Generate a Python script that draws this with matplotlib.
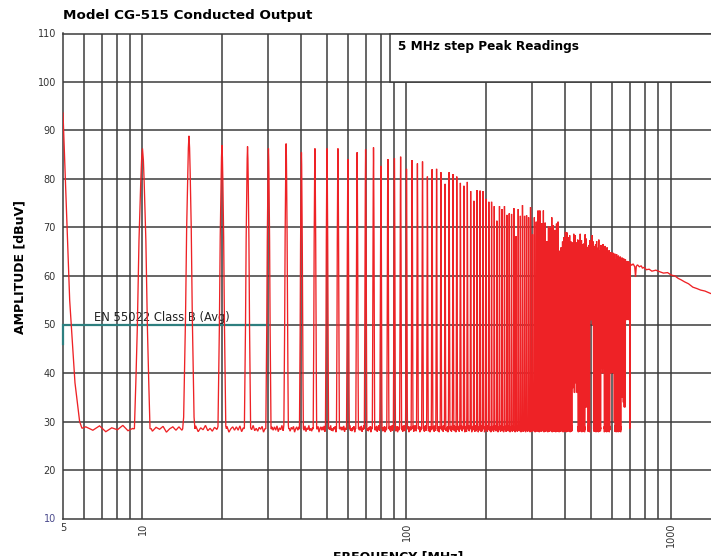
import numpy as np
import matplotlib
matplotlib.use("Agg")
import matplotlib.pyplot as plt
from matplotlib.patches import Rectangle

# ---------------- data ----------------
title = "Model CG-515 Conducted Output"
legend_text = "5 MHz step Peak Readings"
limit_label = "EN 55022 Class B (Avg)"
x_label = "FREQUENCY [MHz]"
y_label = "AMPLITUDE [dBuV]"

# EN 55022 Class B average limit
limit_mhz = [5, 5, 30]
limit_dbuv = [46, 50, 50]

# initial roll-off from the 5 MHz fundamental
start_mhz = [5.0, 5.1, 5.3, 5.55, 5.78, 5.9]
start_dbuv = [93.6, 80.5, 55.0, 38.0, 30.0, 28.6]

# 5 MHz harmonics (peak readings)
harm_mhz = list(range(10, 705, 5))
harm_peak = [
    86.3, 88.9, 87.0, 86.7, 86.3, 87.3, 85.5, 86.3, 86.3, 86.3,   # 10-55
    84.1, 85.5, 86.1, 86.5, 82.7, 84.1, 84.3, 84.6, 82.1, 83.9,   # 60-105
    83.2, 83.6, 80.5, 82.0, 82.1, 81.4, 79.0, 81.4, 81.0, 80.5,   # 110-155
    79.2, 78.6, 79.4, 77.5, 75.5, 77.7, 77.6, 77.5, 75.9, 75.3,   # 160-205
    75.3, 74.4, 71.4, 74.4, 73.8, 74.4, 72.6, 72.9, 72.8, 74.0,   # 210-255
    68.2, 73.8, 72.4, 74.6, 72.4, 72.5, 72.1, 74.2, 68.6, 72.1,   # 260-305
    71.2, 73.5, 73.5, 70.9, 73.5, 71.0, 67.2, 70.3, 70.0, 72.1,   # 310-355
    70.5, 69.5, 70.8, 71.2, 65.2, 65.9, 67.1, 68.0, 69.1, 69.0,   # 360-405
    68.0, 68.4, 67.1, 66.9, 68.7, 68.4, 66.9, 67.5, 67.3, 68.7,   # 410-455
    67.4, 66.5, 66.7, 68.6, 67.7, 66.0, 66.4, 67.4, 67.0, 68.4,   # 460-505
    67.1, 66.1, 66.5, 67.2, 65.8, 67.5, 65.2, 66.4, 64.1, 66.6,   # 510-555
    65.0, 66.2, 63.8, 65.9, 64.2, 65.3, 63.5, 64.9, 64.0, 64.8,   # 560-605
    62.9, 64.6, 63.4, 64.5, 62.8, 64.2, 63.1, 64.0, 62.5, 63.8,   # 610-655
    62.9, 63.6, 62.2, 63.4, 62.6, 63.1, 61.8, 63.0, 62.5,         # 660-700
]
# lowest reading between a harmonic and the next one (noise floor or higher)
floor_dbuv = 28.5
valley_high_mhz = [425, 430, 435, 440, 475, 480, 495, 500, 505,
                   545, 550, 555, 590, 595, 600, 605, 610,
                   650, 655, 660, 665, 670, 675, 680, 685, 690, 695]
valley_high_dbuv = [37, 36, 38, 36, 33, 33, 51, 51, 50,
                    41, 40, 41, 41, 40, 41, 40, 30,
                    35, 35, 34, 33, 33, 52, 51, 52, 51, 52]
# noise floor ripple readings (dB around the floor)
floor_ripple = [0.4, -0.3, 0.6, -0.6, 0.2, -0.2, 0.7, -0.4, 0.1, -0.5, 0.3,
                -0.1, 0.5, -0.7, 0.0, 0.4, -0.3]
# measured single-line response (offset MHz, dB below peak)
resp_offset = [0.0, 0.08, 0.15, 0.3, 0.44, 0.56, 0.68, 0.8]
resp_drop = [0.0, 2.5, 7.0, 19.0, 37.0, 48.0, 58.0, 66.0]

# upper band (harmonics merged)
tail_mhz = [703, 712, 722, 732, 737, 742, 750, 762, 775, 783, 795, 810,
            830, 850, 880, 908, 940, 975, 1006, 1040, 1070, 1098, 1130,
            1170, 1215, 1260, 1300, 1350, 1418, 1460, 1500]
tail_dbuv = [62.6, 62.2, 62.5, 61.9, 59.8, 62.0, 62.3, 61.9, 62.1, 61.6,
             61.8, 61.3, 61.4, 61.0, 61.2, 60.9, 60.6, 60.7, 60.2, 60.0,
             59.5, 59.2, 58.8, 58.4, 57.7, 57.4, 57.1, 56.9, 56.4, 56.3, 56.0]

y_ticks = [10, 20, 30, 40, 50, 60, 70, 80, 90, 100, 110]
x_tick_vals = [5, 10, 100, 1000, 1500]
x_tick_labels = ["5", "10", "100", "1000", "1500"]
x_grid_mhz = [6, 7, 8, 9, 20, 30, 40, 50, 60, 70, 80, 90,
              200, 300, 400, 500, 600, 700, 800, 900]

# ---------------- build the trace ----------------
valley_map = dict(zip(valley_high_mhz, valley_high_dbuv))
xs = list(start_mhz)
ys = list(start_dbuv)
rip = [0]


def width_scale(f):
    t = np.clip(np.log10(f / 50.0) / np.log10(6.0), 0.0, 1.0)
    return 1.0 + 0.6 * t


def add_floor(a, b, level):
    n = max(2, int(round((b - a) / 0.33)))
    for x in np.linspace(a, b, n):
        if level <= floor_dbuv + 0.01:
            ys.append(level + floor_ripple[rip[0] % len(floor_ripple)])
            rip[0] += 1
        else:
            ys.append(level)
        xs.append(x)


first = harm_mhz[0]
add_floor(start_mhz[-1] + 0.2, first - resp_offset[-1], floor_dbuv)
prev_valley = floor_dbuv
for i, (f, pk) in enumerate(zip(harm_mhz, harm_peak)):
    w = width_scale(f)
    right_valley = valley_map.get(f, floor_dbuv)
    for off, d in zip(resp_offset[::-1], resp_drop[::-1]):
        xs.append(f - off * w)
        ys.append(max(pk - d, prev_valley))
    for off, d in zip(resp_offset[1:], resp_drop[1:]):
        xs.append(f + off * w)
        ys.append(max(pk - d, right_valley))
    if i < len(harm_mhz) - 1:
        nxt = harm_mhz[i + 1]
        a = f + resp_offset[-1] * w + 0.1
        b = nxt - resp_offset[-1] * width_scale(nxt) - 0.1
        if b > a:
            add_floor(a, b, right_valley)
    prev_valley = right_valley
xs += tail_mhz
ys += tail_dbuv

# ---------------- figure ----------------
W, H = 711, 556
fig = plt.figure(figsize=(W / 100, H / 100), dpi=100)
ax = fig.add_axes([63 / W, 37.5 / H, 654 / W, 485 / H])
ax.set_xscale("log")
ax.set_xlim(5, 1500)
ax.set_ylim(10, 110)

grid_c = "#3c3c3c"
for g in x_grid_mhz + [10, 100, 1000]:
    ax.axvline(g, color=grid_c, lw=1.1, zorder=1)
for y in y_ticks[1:]:
    ax.axhline(y, color=grid_c, lw=1.1, zorder=1)
for s in ax.spines.values():
    s.set_color(grid_c)
    s.set_linewidth(1.1)

ax.set_yticks(y_ticks)
ax.set_yticklabels([str(v) for v in y_ticks], fontsize=7, color="#333333")
ax.get_yticklabels()[0].set_color("#4a4a8c")
ax.set_xticks(x_tick_vals)
ax.set_xticks([], minor=True)
ax.set_xticklabels(x_tick_labels, fontsize=7, color="#333333")
for lbl in ax.get_xticklabels()[1:]:
    lbl.set_rotation(90)
ax.tick_params(axis="both", which="both", length=0)
ax.tick_params(axis="y", pad=5)
ax.tick_params(axis="x", pad=3)

# limit line and its label
ax.plot(limit_mhz, limit_dbuv, color="#2e7f7f", lw=1.6, zorder=3,
        solid_joinstyle="miter", clip_on=False)
ax.text(6.58, 50.8, limit_label, fontsize=8.3, color="#222222",
        va="baseline", ha="left", zorder=3)

# measured trace
ax.plot(xs, ys, color="#ee2226", lw=0.95, zorder=4, solid_joinstyle="miter")

# legend box
ax.add_patch(Rectangle((0.5, 0.9), 0.6, 0.1, transform=ax.transAxes,
                       facecolor="white", edgecolor=grid_c, lw=1.1,
                       zorder=5, clip_on=False))
ax.text(0.512, 0.974, legend_text, transform=ax.transAxes, fontsize=8.7,
        fontweight="bold", va="center", ha="left", zorder=6)

fig.text(63 / W, 1 - 16 / H, title, fontsize=9.7, fontweight="bold",
         va="center", ha="left")
fig.text(20 / W, 1 - 267 / H, y_label, fontsize=9, fontweight="bold",
         rotation=90, va="center", ha="center")
fig.text(398 / W, 1 - 550 / H, x_label, fontsize=9, fontweight="bold",
         va="top", ha="center")

fig.savefig("out.png", dpi=100)
